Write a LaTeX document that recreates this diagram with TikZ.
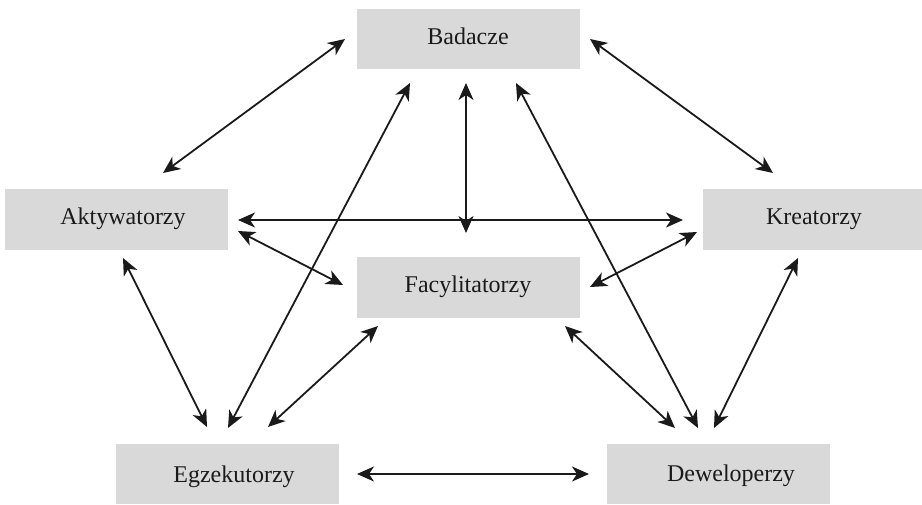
\documentclass[tikz,border=0pt]{standalone}
\usepackage{fontspec}
\setmainfont{Liberation Serif}
\usetikzlibrary{arrows.meta}
\definecolor{boxgray}{HTML}{D9D9D9}
\definecolor{ink}{HTML}{1A1A1A}
\tikzset{
  box/.style={fill=boxgray, draw=none, inner sep=0pt, anchor=north west},
  lbl/.style={anchor=base, inner sep=0pt, font=\fontsize{24}{28}\selectfont, text=ink},
  tip/.tip={Stealth[length=17pt,width=15pt,inset=5pt]},
  conn/.style={draw=ink, line width=1.8pt, tip-tip}
}
\begin{document}
\begin{tikzpicture}[x=1pt,y=-1pt]
\useasboundingbox (0,0) rectangle (922,504);
% boxes
\node[box, minimum width=223pt, minimum height=60pt] (bad) at (357,9) {};
\node[box, minimum width=223pt, minimum height=61pt] (akt) at (5,189) {};
\node[box, minimum width=219pt, minimum height=61pt] (kre) at (703,189) {};
\node[box, minimum width=223pt, minimum height=61pt] (fac) at (357,257) {};
\node[box, minimum width=223pt, minimum height=60pt] (egz) at (116,444) {};
\node[box, minimum width=223pt, minimum height=60pt] (dew) at (607,444) {};
% labels
\node[lbl] (tbad) at (468,44) {Badacze};
\node[lbl] (takt) at (123,224) {Aktywatorzy};
\node[lbl] (tkre) at (814,224) {Kreatorzy};
\node[lbl] (tfac) at (468,292) {Facylitatorzy};
\node[lbl] (tegz) at (234,482) {Egzekutorzy};
\node[lbl] (tdew) at (731,481) {Deweloperzy};
% connector end points
\coordinate (a1s) at (345,39);  \coordinate (a1e) at (163,173);
\coordinate (a2s) at (590,39);  \coordinate (a2e) at (773,173);
\coordinate (a3s) at (466,83);  \coordinate (a3e) at (466,233);
\coordinate (a4s) at (238,220); \coordinate (a4e) at (683,220);
\coordinate (a5s) at (238,231); \coordinate (a5e) at (343,285);
\coordinate (a6s) at (697,232); \coordinate (a6e) at (590,287);
\coordinate (a7s) at (123,258); \coordinate (a7e) at (207,427);
\coordinate (a8s) at (798,258); \coordinate (a8e) at (714,428);
\coordinate (a9s) at (410,83);  \coordinate (a9e) at (228,428);
\coordinate (a10s) at (516,83); \coordinate (a10e) at (698,428);
\coordinate (a11s) at (378,326); \coordinate (a11e) at (268,427);
\coordinate (a12s) at (565,326); \coordinate (a12e) at (675,428);
\coordinate (a13s) at (357,474); \coordinate (a13e) at (589,474);
% connectors
\foreach \i in {1,...,13} {
  \draw[conn] (a\i s) -- (a\i e);
}
\end{tikzpicture}
\end{document}
